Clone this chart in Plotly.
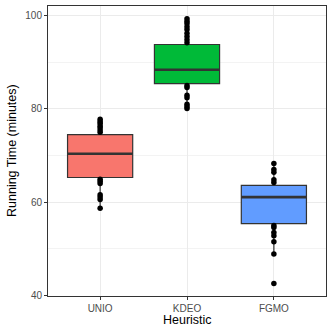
import plotly.graph_objects as go

# categories and box statistics
heuristics = ["UNIO", "KDEO", "FGMO"]
colors = ["#F8766D", "#00BA38", "#619CFF"]
q1 = [65.3, 85.4, 55.4]
median = [70.4, 88.4, 61.1]
q3 = [74.5, 93.8, 63.6]
lowerfence = [58.7, 80.1, 48.9]
upperfence = [77.8, 99.3, 68.3]

# visible observations (points inside the boxes are hidden by the boxes)
unio_times = [77.8, 77.3, 76.9, 76.4, 76.0, 75.5, 75.0, 64.9, 64.5, 64.0, 61.6, 61.1, 60.6, 58.7]
kdeo_times = [99.3, 98.8, 98.3, 97.6, 97.0, 96.2, 95.5, 94.8, 94.2,
              85.0, 84.6, 82.9, 82.4, 81.0, 80.5, 80.1]
fgmo_times = [68.3, 67.0, 66.4, 64.8, 64.2, 55.0, 54.6, 53.5, 52.8, 51.5, 48.9, 42.6]

times = [unio_times, kdeo_times, fgmo_times]
box_width = 0.75

fig = go.Figure()

for name, col, a, m, b, lo, hi in zip(heuristics, colors, q1, median, q3, lowerfence, upperfence):
    fig.add_trace(go.Box(
        x=[name], q1=[a], median=[m], q3=[b], lowerfence=[lo], upperfence=[hi],
        fillcolor=col, line=dict(color="#333333", width=1.2),
        width=box_width, whiskerwidth=0, boxpoints=False, showlegend=False,
        hoverinfo="skip",
    ))

# observations drawn at each category centre
px, py = [], []
for name, vals in zip(heuristics, times):
    px += [name] * len(vals)
    py += vals
fig.add_trace(go.Scatter(
    x=px, y=py, mode="markers",
    marker=dict(color="black", size=5.5, line=dict(width=0)),
    showlegend=False, hoverinfo="skip",
))

# thicker median line like ggplot
for i, m in enumerate(median):
    fig.add_shape(type="line", xref="x", yref="y",
                  x0=i - box_width / 2, x1=i + box_width / 2, y0=m, y1=m,
                  line=dict(color="#333333", width=2.6))

# axis titles
fig.add_annotation(text="Heuristic", xref="paper", yref="paper", x=0.5, y=0,
                   yshift=-24, yanchor="middle", showarrow=False,
                   font=dict(size=12.5, color="black"))
fig.add_annotation(text="Running Time (minutes)", xref="paper", yref="paper",
                   x=0, y=0.5, xshift=-36, xanchor="center", textangle=-90,
                   showarrow=False, font=dict(size=12.5, color="black"))

fig.update_layout(
    width=332, height=332,
    margin=dict(l=48, r=6, t=6, b=36),
    paper_bgcolor="white", plot_bgcolor="white",
    font=dict(family="Liberation Sans, Arial, sans-serif", color="black"),
)
fig.update_xaxes(
    type="category", categoryorder="array", categoryarray=heuristics,
    range=[-0.6, 2.6], automargin=False,
    tickfont=dict(size=10, color="#4D4D4D"),
    showgrid=True, gridcolor="#EBEBEB", gridwidth=1,
    showline=True, mirror=True, linecolor="#333333", linewidth=1,
    ticks="outside", ticklen=3, tickcolor="#333333", zeroline=False,
)
fig.update_yaxes(
    range=[39.9, 102.05], tick0=40, dtick=20, automargin=False,
    tickfont=dict(size=10, color="#4D4D4D"),
    showgrid=True, gridcolor="#EBEBEB", gridwidth=1,
    minor=dict(dtick=10, showgrid=True, gridcolor="#F3F3F3", gridwidth=0.6),
    showline=True, mirror=True, linecolor="#333333", linewidth=1,
    ticks="outside", ticklen=3, tickcolor="#333333", zeroline=False,
)

# drop the default page margin so the 332px figure fills the window
fig.write_html("out.html", config={"displayModeBar": False},
               post_script="document.body.style.margin='0';")
